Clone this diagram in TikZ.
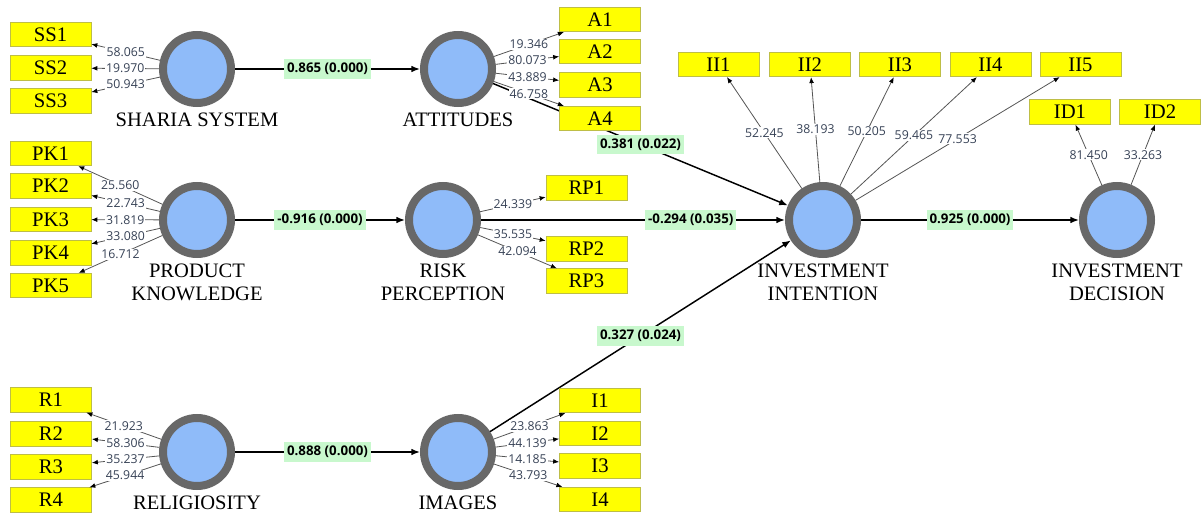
\documentclass[tikz,border=0pt]{standalone}
\usepackage{fontspec}
\setmainfont{Liberation Serif}
\newfontfamily\numfont{Open Sans}
\usepackage{xcolor}
\usetikzlibrary{arrows.meta,positioning,shapes}

\definecolor{ringgray}{RGB}{104,104,104}
\definecolor{lvblue}{RGB}{143,187,249}
\definecolor{itemyellow}{RGB}{255,255,0}
\definecolor{itemedge}{RGB}{190,190,70}
\definecolor{loadgray}{RGB}{85,85,85}
\definecolor{numblue}{RGB}{55,66,86}
\definecolor{coefgreen}{RGB}{200,248,205}

\begin{document}
\begin{tikzpicture}[
    x=0.75pt, y=-0.75pt, % one unit = one pixel of the screenshot
    latent/.style={circle, fill=lvblue, draw=ringgray, line width=6pt, minimum size=51pt, inner sep=0pt},
    ltext/.style={font=\fontsize{15.4}{17.25}\selectfont, align=center, inner sep=0pt, label distance=4pt},
    item/.style={rectangle, fill=itemyellow, draw=itemedge, line width=0.5pt, minimum width=60.75pt, minimum height=18.4pt, inner sep=0pt, font=\fontsize{15.5}{18}\selectfont},
    load/.style={-{Latex[length=4.5pt,width=3.6pt,color=black]}, draw=loadgray, line width=0.6pt},
    lval/.style={fill=white, inner sep=0.8pt, text=numblue, font=\numfont\fontsize{9.2}{10}\selectfont},
    coef/.style={-{Latex[length=6.5pt,width=5pt]}, draw=black, line width=1.1pt},
    cval/.style={fill=coefgreen, inner xsep=2.2pt, inner ysep=3pt, font=\numfont\bfseries\fontsize{10}{11}\selectfont}
]
\useasboundingbox (0,0) rectangle (1202,513);

% Latent variables
\node[latent, label={[ltext]below:SHARIA SYSTEM}] (SS) at (197,69) {};
\node[latent, label={[ltext]below:ATTITUDES}] (ATT) at (458,69) {};
\node[latent, label={[ltext]below:PRODUCT\\KNOWLEDGE}] (PK) at (197,220) {};
\node[latent, label={[ltext]below:RISK\\PERCEPTION}] (RP) at (443,220) {};
\node[latent, label={[ltext]below:INVESTMENT\\INTENTION}] (II) at (823,220) {};
\node[latent, label={[ltext]below:INVESTMENT\\DECISION}] (ID) at (1117,220) {};
\node[latent, label={[ltext]below:RELIGIOSITY}] (REL) at (197,452) {};
\node[latent, label={[ltext]below:IMAGES}] (IMG) at (458,452) {};

% Inner model
\path (SS) edge[coef] node[cval] {0.865 (0.000)} (ATT);
\path (PK) edge[coef] node[cval] {-0.916 (0.000)} (RP);
\path (REL) edge[coef] node[cval] {0.888 (0.000)} (IMG);
\path (ATT) edge[coef] node[cval] {0.381 (0.022)} (II);
\path (RP) edge[coef] node[cval, pos=0.69] {-0.294 (0.035)} (II);
\path (IMG) edge[coef] node[cval] {0.327 (0.024)} (II);
\path (II) edge[coef] node[cval] {0.925 (0.000)} (ID);

% Indicators
\node[item] (SS1) at (50.5,34.5) {SS1};
\node[item] (SS2) at (50.5,68) {SS2};
\node[item] (SS3) at (50.5,101) {SS3};

\node[item] (A1) at (600,19.5) {A1};
\node[item] (A2) at (600,51.5) {A2};
\node[item] (A3) at (600,85) {A3};
\node[item] (A4) at (600,118.5) {A4};

\node[item] (PK1) at (50.5,153.5) {PK1};
\node[item] (PK2) at (50.5,186) {PK2};
\node[item] (PK3) at (50.5,219.5) {PK3};
\node[item] (PK4) at (50.5,253) {PK4};
\node[item] (PK5) at (50.5,285.5) {PK5};

\node[item] (RP1) at (586.5,188) {RP1};
\node[item] (RP2) at (586.5,249) {RP2};
\node[item] (RP3) at (586.5,281) {RP3};

\node[item] (II1) at (718.5,64.5) {II1};
\node[item] (II2) at (810,64.5) {II2};
\node[item] (II3) at (900,64.5) {II3};
\node[item] (II4) at (990.5,64.5) {II4};
\node[item] (II5) at (1080.5,64.5) {II5};

\node[item] (ID1) at (1070,112) {ID1};
\node[item] (ID2) at (1160,112) {ID2};

\node[item] (R1) at (51,400) {R1};
\node[item] (R2) at (51,434) {R2};
\node[item] (R3) at (51,467) {R3};
\node[item] (R4) at (51,500) {R4};

\node[item] (I1) at (600,400.5) {I1};
\node[item] (I2) at (600,433.5) {I2};
\node[item] (I3) at (600,466) {I3};
\node[item] (I4) at (600,499.5) {I4};

% Outer loadings
\path (SS) edge[load] node[lval] {58.065} (SS1);
\path (SS) edge[load] node[lval] {19.970} (SS2);
\path (SS) edge[load] node[lval] {50.943} (SS3);

\path (ATT) edge[load] node[lval] {19.346} (A1);
\path (ATT) edge[load] node[lval] {80.073} (A2);
\path (ATT) edge[load] node[lval] {43.889} (A3);
\path (ATT) edge[load] node[lval] {46.758} (A4);

\path (PK) edge[load] node[lval] {25.560} (PK1);
\path (PK) edge[load] node[lval] {22.743} (PK2);
\path (PK) edge[load] node[lval] {31.819} (PK3);
\path (PK) edge[load] node[lval] {33.080} (PK4);
\path (PK) edge[load] node[lval] {16.712} (PK5);

\path (RP) edge[load] node[lval] {24.339} (RP1);
\path (RP) edge[load] node[lval] {35.535} (RP2);
\path (RP) edge[load] node[lval] {42.094} (RP3);

\path (II) edge[load] node[lval] {52.245} (II1);
\path (II) edge[load] node[lval] {38.193} (II2);
\path (II) edge[load] node[lval] {50.205} (II3);
\path (II) edge[load] node[lval] {59.465} (II4);
\path (II) edge[load] node[lval] {77.553} (II5);

\path (ID) edge[load] node[lval] {81.450} (ID1);
\path (ID) edge[load] node[lval] {33.263} (ID2);

\path (REL) edge[load] node[lval] {21.923} (R1);
\path (REL) edge[load] node[lval] {58.306} (R2);
\path (REL) edge[load] node[lval] {35.237} (R3);
\path (REL) edge[load] node[lval] {45.944} (R4);

\path (IMG) edge[load] node[lval] {23.863} (I1);
\path (IMG) edge[load] node[lval] {44.139} (I2);
\path (IMG) edge[load] node[lval] {14.185} (I3);
\path (IMG) edge[load] node[lval] {43.793} (I4);

\end{tikzpicture}
\end{document}
